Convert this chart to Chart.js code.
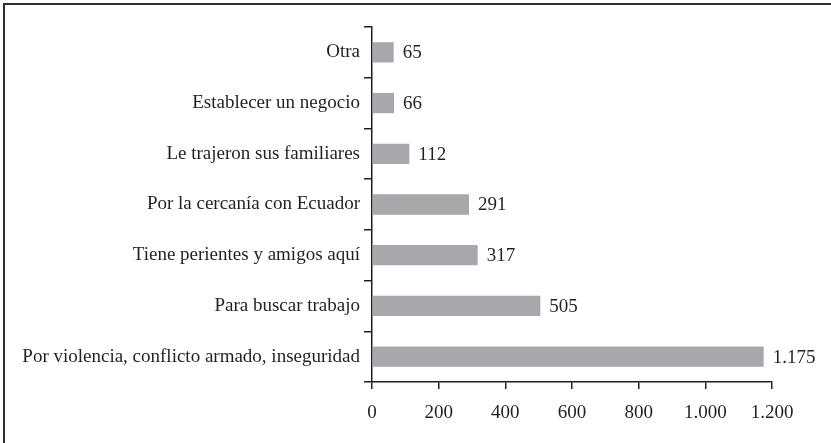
<!DOCTYPE html>
<html>
<head>
<meta charset="utf-8">
<script src="https://cdn.jsdelivr.net/npm/chart.js@4"></script>
<style>
  html, body { margin: 0; padding: 0; background: #fff; }
  #wrap {
    position: relative;
    width: 831px; height: 443px;
    box-sizing: border-box;
  }
  #frame {
    position: absolute; left: 3px; top: 3px; right: 0; bottom: 0;
    border-top: 2px solid #2e2e2e;
    border-left: 2px solid #2e2e2e;
    pointer-events: none;
  }
  canvas { position: absolute; left: 0; top: 0; }
</style>
</head>
<body>
<div id="wrap">
  <canvas id="chart" width="831" height="443"></canvas>
  <div id="frame"></div>
</div>
<script>
// datos del gráfico
const categorias = [
  "Otra",
  "Establecer un negocio",
  "Le trajeron sus familiares",
  "Por la cercanía con Ecuador",
  "Tiene perientes y amigos aquí",
  "Para buscar trabajo",
  "Por violencia, conflicto armado, inseguridad"
];
const valores = [65, 66, 112, 291, 317, 505, 1175];
const ejeX = { min: 0, max: 1200, paso: 200 };

const TEXTO = '#231f20';
const GRIS = '#a7a8ab';
const FUENTE = "'Liberation Serif', 'DejaVu Serif', serif";

// 1200 -> "1.200"
function fmt(n) {
  return String(n).replace(/\B(?=(\d{3})+(?!\d))/g, '.');
}

// etiquetas al final de cada barra
const etiquetasBarras = {
  id: 'etiquetasBarras',
  afterDatasetsDraw(chart) {
    const ctx = chart.ctx;
    const meta = chart.getDatasetMeta(0);
    ctx.save();
    ctx.font = '19px ' + FUENTE;
    ctx.fillStyle = TEXTO;
    ctx.textAlign = 'left';
    ctx.textBaseline = 'middle';
    meta.data.forEach((bar, i) => {
      ctx.fillText(fmt(valores[i]), bar.x + 9, bar.y + 1);
    });
    ctx.restore();
  }
};

new Chart(document.getElementById('chart'), {
  type: 'bar',
  data: {
    labels: categorias,
    datasets: [{
      data: valores,
      backgroundColor: GRIS,
      borderWidth: 0,
      barPercentage: 0.4,
      categoryPercentage: 1
    }]
  },
  options: {
    indexAxis: 'y',
    responsive: false,
    animation: false,
    events: [],
    layout: { padding: { left: 0, right: 59, top: 27, bottom: 0 } },
    plugins: {
      legend: { display: false },
      tooltip: { enabled: false }
    },
    scales: {
      x: {
        min: ejeX.min,
        max: ejeX.max,
        ticks: {
          stepSize: ejeX.paso,
          color: TEXTO,
          font: { family: FUENTE, size: 19 },
          padding: 13,
          maxRotation: 0,
          callback: v => fmt(v)
        },
        grid: {
          drawOnChartArea: false,
          drawTicks: true,
          tickLength: 7,
          color: '#231f20',
          lineWidth: 1.5
        },
        border: { display: true, color: '#231f20', width: 1.5 },
        afterFit(scale) { scale.height = 61; }
      },
      y: {
        ticks: {
          color: TEXTO,
          font: { family: FUENTE, size: 19 },
          padding: 4
        },
        grid: {
          offset: true,
          drawOnChartArea: false,
          drawTicks: true,
          tickLength: 8,
          color: '#231f20',
          lineWidth: 1.5
        },
        border: { display: true, color: '#231f20', width: 1.5 },
        afterFit(scale) { scale.width = 372; }
      }
    }
  },
  plugins: [etiquetasBarras]
});
</script>
</body>
</html>
